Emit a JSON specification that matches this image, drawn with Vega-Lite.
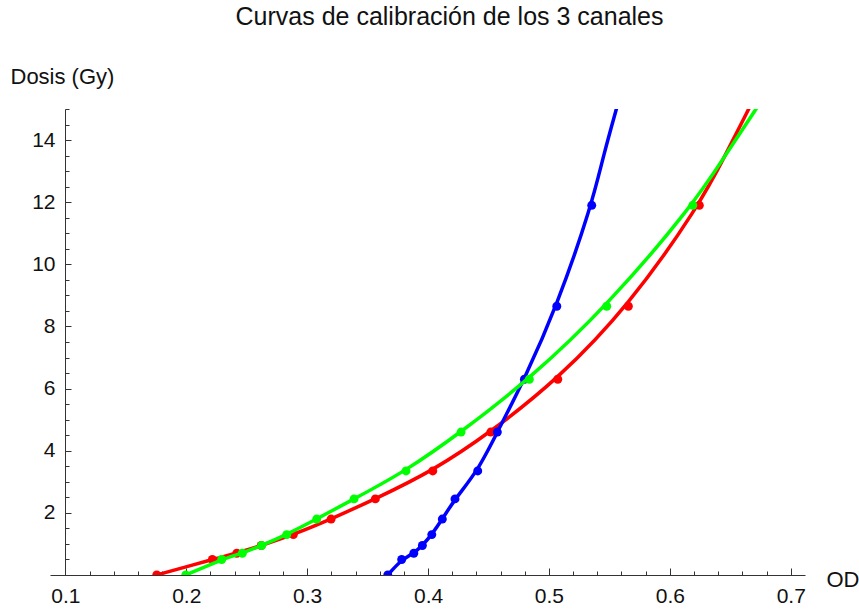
{
  "$schema": "https://vega.github.io/schema/vega-lite/v6.json",
  "width": 755,
  "height": 466,
  "autosize": "none",
  "padding": {"left": 50, "top": 109, "right": 54, "bottom": 35},
  "background": "white",
  "config": {
    "view": {"stroke": null},
    "font": "Liberation Sans",
    "axis": {"grid": false}
  },
  "title": {
    "text": "Curvas de calibración de los 3 canales",
    "font": "Liberation Sans",
    "fontSize": 25,
    "fontWeight": "normal",
    "color": "#111111",
    "anchor": "middle",
    "frame": "group",
    "baseline": "alphabetic",
    "offset": 15,
    "dx": 22
  },
  "datasets": {
    "rojo_puntos": [
      {"od": 0.1756, "dosis": 0},
      {"od": 0.2216, "dosis": 0.5},
      {"od": 0.2418, "dosis": 0.7},
      {"od": 0.2620, "dosis": 0.95},
      {"od": 0.2886, "dosis": 1.3},
      {"od": 0.3198, "dosis": 1.8},
      {"od": 0.3564, "dosis": 2.45},
      {"od": 0.4039, "dosis": 3.35},
      {"od": 0.4519, "dosis": 4.6},
      {"od": 0.5073, "dosis": 6.3},
      {"od": 0.5657, "dosis": 8.65},
      {"od": 0.6244, "dosis": 11.9}
    ],
    "rojo_curva": [
      {"od": 0.1756, "dosis": 0},
      {"od": 0.2216, "dosis": 0.5},
      {"od": 0.2418, "dosis": 0.7},
      {"od": 0.2620, "dosis": 0.95},
      {"od": 0.2886, "dosis": 1.3},
      {"od": 0.3198, "dosis": 1.8},
      {"od": 0.3564, "dosis": 2.45},
      {"od": 0.4039, "dosis": 3.35},
      {"od": 0.4519, "dosis": 4.6},
      {"od": 0.5073, "dosis": 6.3},
      {"od": 0.5657, "dosis": 8.65},
      {"od": 0.6244, "dosis": 11.9},
      {"od": 0.6457, "dosis": 13.5},
      {"od": 0.6665, "dosis": 15.1}
    ],
    "azul_puntos": [
      {"od": 0.3667, "dosis": 0},
      {"od": 0.3782, "dosis": 0.5},
      {"od": 0.3882, "dosis": 0.7},
      {"od": 0.3953, "dosis": 0.95},
      {"od": 0.4031, "dosis": 1.3},
      {"od": 0.4118, "dosis": 1.8},
      {"od": 0.4223, "dosis": 2.45},
      {"od": 0.4411, "dosis": 3.35},
      {"od": 0.4573, "dosis": 4.6},
      {"od": 0.4797, "dosis": 6.3},
      {"od": 0.5065, "dosis": 8.65},
      {"od": 0.5354, "dosis": 11.9}
    ],
    "azul_curva": [
      {"od": 0.3667, "dosis": 0},
      {"od": 0.3782, "dosis": 0.5},
      {"od": 0.3882, "dosis": 0.7},
      {"od": 0.3953, "dosis": 0.95},
      {"od": 0.4031, "dosis": 1.3},
      {"od": 0.4118, "dosis": 1.8},
      {"od": 0.4223, "dosis": 2.45},
      {"od": 0.4411, "dosis": 3.35},
      {"od": 0.4573, "dosis": 4.6},
      {"od": 0.4797, "dosis": 6.3},
      {"od": 0.5065, "dosis": 8.65},
      {"od": 0.5354, "dosis": 11.9},
      {"od": 0.5450, "dosis": 13.5},
      {"od": 0.5565, "dosis": 15.1}
    ],
    "verde_puntos": [
      {"od": 0.1996, "dosis": 0},
      {"od": 0.2293, "dosis": 0.5},
      {"od": 0.2464, "dosis": 0.7},
      {"od": 0.2624, "dosis": 0.95},
      {"od": 0.2831, "dosis": 1.3},
      {"od": 0.3079, "dosis": 1.8},
      {"od": 0.3388, "dosis": 2.45},
      {"od": 0.3818, "dosis": 3.35},
      {"od": 0.4273, "dosis": 4.6},
      {"od": 0.4838, "dosis": 6.3},
      {"od": 0.5478, "dosis": 8.65},
      {"od": 0.6190, "dosis": 11.9}
    ],
    "verde_curva": [
      {"od": 0.1996, "dosis": 0},
      {"od": 0.2293, "dosis": 0.5},
      {"od": 0.2464, "dosis": 0.7},
      {"od": 0.2624, "dosis": 0.95},
      {"od": 0.2831, "dosis": 1.3},
      {"od": 0.3079, "dosis": 1.8},
      {"od": 0.3388, "dosis": 2.45},
      {"od": 0.3818, "dosis": 3.35},
      {"od": 0.4273, "dosis": 4.6},
      {"od": 0.4838, "dosis": 6.3},
      {"od": 0.5478, "dosis": 8.65},
      {"od": 0.6190, "dosis": 11.9},
      {"od": 0.6457, "dosis": 13.5},
      {"od": 0.6730, "dosis": 15.1}
    ]
  },
  "encoding": {
    "x": {
      "field": "od",
      "type": "quantitative",
      "scale": {"domain": [0.0873, 0.7118], "nice": false, "zero": false},
      "axis": {
        "title": "OD",
        "titleFont": "Liberation Sans",
        "titleFontSize": 22,
        "titleFontWeight": "normal",
        "titleColor": "#111111",
        "titleAngle": 0,
        "titleAlign": "left",
        "titleBaseline": "alphabetic",
        "titleX": 776,
        "titleY": 11,
        "values": [0.1,0.12,0.14,0.16,0.18,0.2,0.22,0.24,0.26,0.28,0.3,0.32,0.34,0.36,0.38,0.4,0.42,0.44,0.46,0.48,0.5,0.52,0.54,0.56,0.58,0.6,0.62,0.64,0.66,0.68,0.7],
        "labelExpr": "round(datum.value*100) % 10 == 0 ? format(datum.value, '.1f') : ''",
        "labelFont": "Liberation Sans",
        "labelFontSize": 21,
        "labelColor": "#111111",
        "labelPadding": 17,
        "labelFlush": false,
        "labelOverlap": false,
        "domainColor": "#333333",
        "domainWidth": 1,
        "tickColor": "#333333",
        "tickWidth": 1,
        "tickSize": {"condition": {"test": "round(datum.value*100) % 10 == 0", "value": -7}, "value": -4}
      }
    },
    "y": {
      "field": "dosis",
      "type": "quantitative",
      "scale": {"domain": [0, 15], "nice": false, "zero": true},
      "axis": {
        "title": "Dosis (Gy)",
        "titleFont": "Liberation Sans",
        "titleFontSize": 22,
        "titleFontWeight": "normal",
        "titleColor": "#111111",
        "titleAngle": 0,
        "titleAlign": "left",
        "titleBaseline": "alphabetic",
        "titleX": -55,
        "titleY": -26,
        "offset": -15,
        "values": [0,0.5,1,1.5,2,2.5,3,3.5,4,4.5,5,5.5,6,6.5,7,7.5,8,8.5,9,9.5,10,10.5,11,11.5,12,12.5,13,13.5,14,14.5,15],
        "labelExpr": "(datum.value > 0 && round(datum.value*2) % 4 == 0) ? format(datum.value, 'd') : ''",
        "labelFont": "Liberation Sans",
        "labelFontSize": 21,
        "labelColor": "#111111",
        "labelPadding": 16,
        "labelFlush": false,
        "labelOverlap": false,
        "domainColor": "#333333",
        "domainWidth": 1,
        "tickColor": "#333333",
        "tickWidth": 1,
        "tickSize": {"condition": {"test": "datum.value > 0 && round(datum.value*2) % 4 == 0", "value": -6}, "value": -4}
      }
    }
  },
  "layer": [
    {"data": {"name": "rojo_curva"}, "mark": {"type": "line", "color": "#ff0000", "strokeWidth": 3.5, "interpolate": "basis", "clip": true}},
    {"data": {"name": "rojo_puntos"}, "mark": {"type": "point", "filled": true, "color": "#ff0000", "size": 80, "opacity": 1, "clip": true}},
    {"data": {"name": "azul_curva"}, "mark": {"type": "line", "color": "#0000ff", "strokeWidth": 3.5, "interpolate": "basis", "clip": true}},
    {"data": {"name": "azul_puntos"}, "mark": {"type": "point", "filled": true, "color": "#0000ff", "size": 80, "opacity": 1, "clip": true}},
    {"data": {"name": "verde_curva"}, "mark": {"type": "line", "color": "#00ff00", "strokeWidth": 3.5, "interpolate": "basis", "clip": true}},
    {"data": {"name": "verde_puntos"}, "mark": {"type": "point", "filled": true, "color": "#00ff00", "size": 80, "opacity": 1, "clip": true}}
  ]
}
